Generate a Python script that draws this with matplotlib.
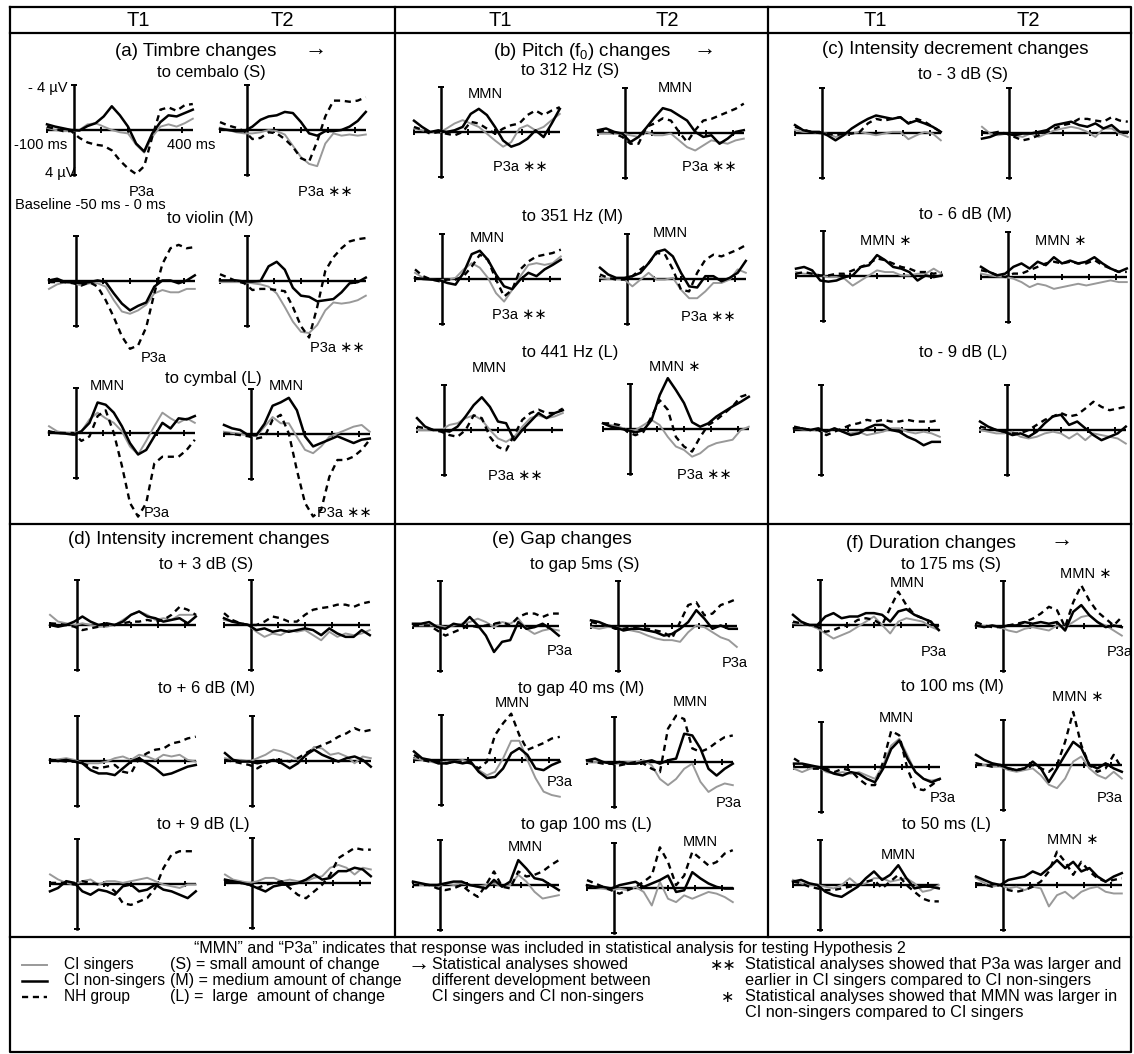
import matplotlib.pyplot as plt

plt.rcParams['font.family'] = ['Liberation Sans', 'DejaVu Sans']
plt.rcParams['mathtext.fontset'] = 'custom'
plt.rcParams['mathtext.rm'] = 'Liberation Sans'

W, H = 1134, 1054

# sample times (ms) shared by every waveform
times = [-100, -70, -40, -10, 20, 50, 80, 110, 140, 170, 200, 230, 260, 290, 320, 350, 380, 410, 440]

# amplitudes in microvolts, negative = up; rows: CI singers, CI non-singers, NH group
# (a) timbre
cembalo_t1 = [[-0.2, 0, 0.1, 0.1, 0, -0.5, -0.6, -0.3, 0, 0.2, 0.3, 1.3, 2.0, 0.6, -0.3, -0.5, -0.3, -0.6, -1.0],
              [-0.5, -0.3, -0.15, 0, 0.05, -0.35, -0.6, -1.2, -2.1, -1.3, -0.3, 1.2, 1.9, 0.3, -0.7, -1.3, -1.2, -1.5, -1.8],
              [-0.3, -0.1, 0.1, 0.1, 0.7, 1.1, 1.3, 1.4, 1.8, 2.7, 3.4, 3.9, 3.2, 0.6, -1.8, -2.0, -1.7, -2.2, -2.3]]
cembalo_t2 = [[-0.2, 0, 0.2, 0.3, 0.3, 0.2, 0.0, 0.1, 0.4, 1.4, 2.4, 3.0, 3.2, 1.2, 0.3, 0.5, 0.4, 0.5, 0.4],
              [-0.1, 0, 0.1, 0.1, -0.3, -0.9, -1.2, -1.3, -1.6, -1.5, -0.7, 0.3, 0.5, 0.1, 0.1, 0.0, -0.3, -0.8, -1.6],
              [-0.7, -0.4, -0.2, 0.1, 0.8, 0.7, 0.2, 0.3, 0.8, 1.5, 2.5, 2.8, 1.0, -1.2, -2.6, -2.6, -2.5, -2.6, -2.9]]
violin_t1 = [[0.7, 0.3, 0.1, 0.2, 0.4, 0.2, 0.2, 0.5, 1.7, 2.7, 2.9, 2.6, 2.1, 1.1, 0.8, 1.0, 1.0, 0.7, 0.7],
             [-0.05, -0.2, 0.1, 0.1, 0.2, 0.1, -0.05, 0.1, 1.1, 2.0, 2.6, 2.2, 1.9, 0.5, -0.05, -0.05, 0.2, -0.05, -0.5],
             [0.1, 0.1, 0.1, 0.2, 0.4, 0.1, 0.5, 1.7, 3.2, 4.9, 6.0, 5.7, 4.1, 1.1, -1.5, -2.9, -3.2, -2.9, -3.0]]
violin_t2 = [[0.1, 0.1, 0.1, 0.1, 0.2, 0.3, 0.5, 1.1, 2.3, 3.6, 4.5, 4.6, 3.9, 2.6, 1.9, 2.0, 1.9, 1.7, 1.3],
             [-0.05, -0.05, -0.05, 0.05, 0.05, 0.0, -1.3, -1.7, -1.0, 0.6, 1.3, 1.4, 1.8, 1.7, 1.6, 1.0, 0.2, 0.1, -0.3],
             [-0.6, -0.3, 0.0, 0.2, 0.8, 0.7, 0.7, 0.8, 0.9, 2.3, 4.0, 5.0, 2.3, -0.9, -2.1, -2.9, -3.5, -3.7, -3.8]]
cymbal_t1 = [[-0.6, -0.15, 0, 0, -0.15, -1.2, -1.8, -1.3, -0.9, -0.15, 1.2, 1.9, 0.7, -0.6, -1.8, -1.3, -0.9, -1.3, -0.9],
             [-0.05, 0, 0.05, 0.15, -0.15, -0.9, -2.7, -2.5, -1.8, -0.6, 0.9, 1.9, 1.5, 0.3, -0.9, -0.4, -1.3, -1.2, -1.5],
             [-0.15, 0, 0, 0, 0.7, 0.3, -1.5, -2.0, 0, 2.9, 6.2, 7.4, 6.2, 2.7, 2.1, 2.1, 2.1, 1.5, 0.6]]
cymbal_t2 = [[-0.2, -0.1, 0, 0.1, 0.2, -0.65, -1.5, -0.95, -0.95, 0.25, 1.4, 1.7, 1.1, 0.25, -0.05, -0.35, -0.65, -0.8, -0.2],
             [-0.8, -0.5, -0.35, 0.1, 0.1, -0.9, -2.5, -2.8, -3.2, -2.1, 0.2, 1.1, 0.8, 0.5, 0.2, 0.5, 0.8, 0.5, 0.4],
             [-0.05, 0, 0.1, 0.2, 0.4, 0.25, -1.25, -1.7, -0.05, 3.2, 6.1, 7.3, 6.7, 3.8, 2.3, 2.3, 2.0, 1.4, 0.5]]

# (b) pitch
hz312_t1 = [[-0.3, -0.15, 0, 0.1, -0.3, -0.75, -1.05, -0.75, -0.45, 0.15, 0.75, 1.3, 0.9, -0.3, -0.6, -0.15, -0.45, -1.05, -1.6],
            [-1.0, -0.45, 0, -0.15, 0, -0.15, -0.45, -1.6, -2.05, -1.5, -0.45, 0.75, 1.3, 1.05, 0.6, -0.15, 0.45, -0.75, -2.05],
            [-0.45, -0.2, 0.15, 0, 0.15, 0.3, 0, -0.9, -0.75, -0.3, 0.15, -0.3, -0.6, -0.75, -1.5, -1.9, -1.5, -1.9, -2.2]]
hz312_t2 = [[0.05, 0.05, 0.05, 0.05, 0.2, 0.35, -0.1, 0.2, 0.2, 0.05, 0.65, 1.25, 1.55, 1.1, 0.65, 0.8, 0.95, 0.65, 0.5],
            [-0.25, -0.4, -0.1, 0.05, 0.8, 0.35, -0.5, -1.4, -2.2, -2.0, -1.55, -1.1, -0.1, 0.35, 0.2, 0.95, 0.5, -0.1, -0.25],
            [-0.1, -0.25, 0.05, 0.35, 0.95, 0.95, -0.55, -0.85, -1.3, -1.1, -0.1, 0.8, -0.25, -1.1, -1.25, -1.55, -1.85, -2.15, -2.6]]
hz351_t1 = [[-0.55, -0.1, 0.05, 0.1, 0.05, -0.1, -0.85, -1.4, -1.0, -0.1, 1.25, 2.0, 0.95, -0.25, -1.25, -1.4, -1.25, -1.4, -2.0],
            [-0.1, 0, 0.05, 0.1, 0.35, 0.5, -0.55, -2.2, -2.5, -1.7, -0.4, 0.65, 0.9, 0.05, -0.55, -0.25, -0.85, -1.25, -1.7],
            [-0.85, -0.25, 0.05, 0.2, 0.05, 0.05, -0.25, -1.1, -2.15, -1.7, 0.05, 1.55, 0.95, -0.85, -1.55, -2.0, -2.15, -2.3, -2.6]]
hz351_t2 = [[-0.1, 0, 0, 0.05, 0.65, 0.05, -0.55, 0.05, 0.05, -0.1, 0.95, 1.7, 1.7, 1.1, 0.35, 0.35, 0.05, -0.85, -0.55],
            [-1.0, -0.4, -0.1, -0.1, -0.25, -0.55, -1.4, -2.4, -2.6, -2.0, -0.55, 0.65, 0.75, -0.25, -0.25, 0.2, -0.1, -0.55, -1.6],
            [-0.4, -0.1, 0.05, 0.05, -0.25, -0.85, -1.4, -2.3, -2.2, -0.85, 0.95, 1.1, -0.55, -1.7, -2.15, -2.0, -2.3, -2.6, -3.0]]
hz441_t1 = [[0, 0, 0, 0, -0.45, -0.6, -1.05, -1.3, -0.9, 0, 0.75, 1.05, 0.6, -0.3, -1.05, -1.3, -1.05, -1.2, -1.5],
            [-1.05, -0.3, 0, 0, 0.15, -0.3, -1.2, -2.2, -2.9, -2.05, -0.75, -0.6, 0.9, 0, -0.75, -1.5, -1.05, -1.5, -1.75],
            [-0.3, -0.15, 0, 0.15, 0.45, 0.6, 0, -1.3, -1.05, 0.6, 1.5, 1.8, 0.45, -0.9, -1.5, -1.8, -1.5, -1.5, -1.9]]
hz441_t2 = [[-0.5, -0.35, -0.2, 0.1, 0.1, -0.35, -0.8, -0.35, 0.7, 1.55, 1.85, 2.45, 2.15, 1.55, 1.25, 1.1, 0.95, 0.1, -0.2],
            [-0.5, -0.2, -0.05, 0.1, 0.3, 0.1, -0.8, -3.0, -4.5, -3.45, -2.3, -0.6, -0.2, -0.5, -1.1, -1.55, -2.0, -2.4, -2.85],
            [-0.5, -0.5, -0.35, 0.25, 0.55, 0.25, -1.1, -2.55, -1.7, 0.7, 1.55, 2.0, 0.7, -0.35, -0.8, -1.4, -2.0, -2.85, -3.1]]

# (c) intensity decrement
dec3_t1 = [[-0.25, -0.1, -0.1, 0, 0.05, 0.35, 0.2, 0.05, -0.1, 0.05, 0.2, 0.05, -0.1, -0.1, 0.55, 0.2, -0.1, 0.05, 0.65],
           [-0.7, -0.25, -0.1, -0.1, 0.2, 0.65, 0.2, -0.4, -0.85, -1.25, -1.55, -1.4, -1.25, -1.4, -0.85, -1.1, -0.85, -0.55, -0.1],
           [-0.55, -0.3, -0.1, 0, 0.05, 0.2, 0.05, 0.05, -0.1, -0.85, -1.25, -1.1, -1.25, -1.4, -0.85, -1.25, -1.0, -0.55, -0.1]]
dec3_t2 = [[-0.55, 0.05, 0.2, 0.05, 0.2, 0.35, 0.05, 0.35, 0.05, -0.25, -0.4, -0.55, -0.4, -0.1, 0.35, -0.4, -0.4, 0.05, 0.35],
           [0.5, 0.35, 0.05, 0.05, 0.2, 0.05, 0.05, -0.1, -0.25, -0.7, -0.85, -1.0, -0.7, -0.55, -0.85, -0.4, -0.7, -0.1, -0.1],
           [-0.1, 0.05, -0.1, 0.05, 0.35, 0.65, 0.5, 0.2, -0.1, -0.4, -0.7, -0.85, -1.25, -1.25, -1.1, -1.0, -1.4, -1.1, -1.0]]
dec6_t1 = [[-0.35, -0.2, -0.2, -0.05, 0.1, 0.1, 0.25, 0.85, 0.4, -0.05, -0.5, -0.35, -0.35, -0.05, -0.05, -0.2, -0.2, -0.65, -0.2],
           [-0.65, -0.8, -0.5, 0.4, 0.5, 0.4, 0.1, -0.05, -0.8, -0.95, -1.85, -1.4, -0.8, -0.65, -0.35, 0.4, -0.05, 0.1, -0.05],
           [-0.2, -0.35, -0.2, -0.05, -0.05, -0.2, -0.2, -0.5, -0.8, -1.1, -1.55, -1.4, -1.1, -0.8, -0.65, -0.35, -0.35, -0.2, -0.35]]
dec6_t2 = [[-0.3, -0.15, -0.05, 0, 0.15, 0.45, 0.9, 0.6, 0.75, 1.05, 0.9, 0.75, 0.6, 0.75, 0.6, 0.45, 0.3, 0.45, 0.45],
           [-0.9, -0.45, -0.15, -0.3, -0.9, -1.2, -0.75, -1.35, -1.05, -1.75, -1.2, -1.45, -1.2, -1.35, -1.75, -1.2, -0.75, -0.45, -0.75],
           [-0.6, -0.45, -0.15, 0, -0.3, -0.3, -0.6, -0.9, -1.2, -1.35, -1.2, -1.35, -1.2, -1.2, -1.5, -1.05, -0.75, -0.45, -0.45]]
dec9_t1 = [[-0.15, -0.05, 0, 0, 0.15, -0.15, 0.15, 0.3, 0.15, 0.45, 0.3, 0.15, -0.15, -0.15, 0.15, 0.3, 0.15, 0.3, 0.6],
           [-0.15, -0.15, 0, -0.15, 0.15, -0.15, 0.15, 0.45, 0.3, -0.15, -0.45, -0.45, 0, 0.15, 0.6, 0.9, 1.35, 1.05, 1.05],
           [-0.3, -0.15, 0, 0, 0.45, 0.15, -0.15, -0.45, -0.6, -0.9, -0.75, -0.9, -0.75, -0.75, -0.9, -0.75, -0.75, -0.75, -0.9]]
dec9_t2 = [[0, 0.15, 0.3, 0.3, 0.15, 0.6, 0.75, 0.6, 0.3, 0.15, 0.3, 0.75, 0.3, 0.9, 0.3, 0.45, 0.6, 0.75, 1.2],
           [-0.75, -0.3, 0, 0.15, 0.45, 0.3, 0.6, 0.15, -0.6, -1.2, -1.35, -0.45, -0.75, -0.15, 0.45, 0.9, 0.6, 0.3, -0.3],
           [-0.3, -0.15, 0, 0.15, 0.3, 0.3, 0, -0.45, -0.9, -1.2, -1.5, -1.2, -1.35, -1.9, -2.5, -2.05, -1.75, -1.9, -2.05]]

# (d) intensity increment
inc3_t1 = [[-0.9, -0.3, -0.15, 0, -0.15, 0, 0.15, 0.15, 0, -0.45, -0.9, -1.2, -0.9, -0.45, -0.6, -0.45, -0.9, -0.9, -0.9],
           [0, 0.15, 0, -0.3, -0.75, -0.3, 0, -0.15, 0, -0.3, -0.9, -1.2, -0.75, -0.6, -0.3, -0.45, -0.6, -0.15, -0.75],
           [-0.15, -0.1, 0, 0.15, 0.45, 0.3, 0.15, 0, 0, -0.15, -0.3, -0.3, -0.45, -0.3, -0.45, -0.9, -1.6, -1.35, -0.9]]
inc3_t2 = [[-0.45, -0.3, -0.15, 0, 0.6, 1.05, 0.75, 0.9, 0.45, 0.6, 0.45, 0.9, 1.35, 0.6, 1.05, 0.75, 0.9, 0.75, 0.45],
           [-0.6, -0.3, -0.15, 0, 0.45, 0.3, 0.6, 0.45, 0.6, 0.45, 0.3, 0.45, 0.9, 0.3, 0.75, 1.05, 1.05, 0.45, 0.9],
           [-1.05, -0.45, -0.15, 0, 0, -0.3, -0.75, -0.6, -0.3, -0.3, -0.9, -1.35, -1.5, -1.6, -1.8, -1.8, -1.6, -1.9, -2.05]]
inc6_t1 = [[-0.1, -0.15, -0.25, -0.1, 0.2, 0.2, 0.2, 0.05, -0.25, -0.4, -0.1, -0.55, -0.4, -0.1, -0.55, -0.4, -0.55, -0.1, 0.05],
           [-0.1, 0, -0.1, 0.05, 0.2, 0.8, 1.1, 1.1, 1.25, 0.65, 0.05, -0.25, 0.2, 0.65, 1.25, 1.1, 0.8, 0.5, 0.35],
           [-0.1, -0.05, 0.05, 0.05, 0.2, 0.5, 0.65, 0.5, 0.35, 0.95, 1.1, -0.25, -0.7, -1.0, -1.1, -1.55, -1.7, -2.0, -2.15]]
inc6_t2 = [[-0.25, -0.1, -0.1, 0.05, -0.25, -0.55, -1.0, -0.85, -0.55, -0.1, -0.4, -1.25, -1.1, -0.55, -0.7, -0.4, 0.2, -0.4, -0.25],
           [-0.7, -0.1, 0.05, 0.05, 0.2, 0.05, -0.1, 0.2, 0.65, 0.2, -0.55, -1.0, -0.55, -0.25, 0.05, -0.25, -0.4, -0.1, 0.5],
           [-0.1, 0.05, 0.2, 0.35, 0.65, 0.2, -0.1, -0.1, 0.05, -0.25, -0.7, -1.1, -1.4, -1.7, -2.15, -2.45, -2.9, -2.6, -2.75]]
inc9_t1 = [[-0.85, -0.4, -0.1, 0.05, -0.25, -0.4, 0.05, -0.25, -0.25, -0.1, -0.25, -0.4, -0.55, -0.25, 0.05, 0.2, 0.35, 0.05, 0.05],
           [0.65, 0.35, -0.25, -0.1, 0.65, 0.95, 0.5, 0.65, 0.95, 0.2, 0.05, 0.65, 0.5, 0.05, 0.5, 0.65, 0.95, 1.25, 0.65],
           [-0.1, -0.1, -0.1, 0.05, -0.25, -0.1, 0.05, 0.05, 0.65, 1.7, 1.85, 1.55, 1.25, 0.35, -1.4, -2.6, -2.9, -2.9, -2.9]]
inc9_t2 = [[-0.75, -0.3, -0.15, 0, -0.15, -0.45, -0.45, -0.15, -0.3, -0.15, -0.15, -0.45, -0.6, -1.35, -1.6, -1.35, -0.75, -1.35, -1.2],
           [-0.3, -0.15, 0, 0.15, 0.45, 0.75, 0.3, 0.15, 0.15, 0, -0.3, -0.75, -0.3, -0.45, -1.05, -1.05, -1.35, -1.2, -0.6],
           [-0.15, -0.1, 0, 0.15, 0.45, 0.15, 0, -0.15, 0.45, 1.05, 1.35, 0.75, 0.15, -0.75, -2.2, -2.65, -3.1, -2.95, -2.95]]

# (e) gap
gap5_t1 = [[-0.05, -0.05, -0.05, -0.05, 0.1, -0.05, -0.2, -0.35, -0.65, -0.35, 0.1, -0.35, -0.2, -0.65, 0.25, 0.7, 0.4, 0.25, 0.4],
           [-0.2, -0.2, -0.35, 0.1, 0.25, -0.2, -0.05, -0.8, -0.05, 0.85, 2.3, 1.4, 1.25, -0.35, 0.25, 0.1, -0.2, 0.25, 0.85],
           [-0.05, -0.05, -0.05, 0.4, 0.85, 0.55, 0.25, -0.05, 0.1, -0.05, -0.2, -0.35, -0.05, -0.8, -1.1, -1.1, -0.8, -1.1, -1.1]]
gap5_t2 = [[0.1, 0.25, 0.1, 0.1, 0.25, 0.4, 0.55, 0.85, 1.1, 1.25, 1.25, 1.4, 0.55, -0.05, 0.1, 0.55, 1.0, 1.25, 1.85],
           [-0.5, -0.35, -0.05, 0.1, 0.4, 0.25, 0.25, 0.4, 0.55, 0.85, 0.7, 0.25, -0.35, -1.4, -0.65, 0.25, -0.05, 0.25, 0.25],
           [-0.35, -0.2, -0.05, 0.25, 0.25, 0.1, 0.25, 0.25, 0.4, 0.55, 1.1, -0.35, -1.85, -2.1, -0.95, -1.1, -1.85, -2.1, -2.4]]
gap40_t1 = [[-0.15, 0, 0.15, 0.3, 0.15, 0.15, 0, 0.3, 0.9, 1.35, 1.05, -0.15, -1.7, -1.7, 0, 1.6, 2.8, 3.1, 3.25],
            [-0.75, -0.15, 0, 0.3, 0.3, 0.15, 0.3, 0.15, 1.05, 1.6, 1.5, 0.75, -0.6, -1.05, -0.45, 0.75, 0.9, 0.45, 0.15],
            [-0.45, 0, 0.15, 0.15, 0.3, 0.15, 0.15, 0.3, 0.75, 0.15, -2.2, -3.25, -4.1, -2.2, -0.9, -1.2, -1.5, -1.9, -2.05]]
gap40_t2 = [[0, 0, 0, 0.15, 0.15, 0, 0, -0.15, 0.3, 1.5, 2.05, 1.5, 0.6, 0.15, 1.75, 2.65, 2.2, 1.9, 2.05],
            [-0.15, -0.3, 0, 0.15, 0, 0.15, 0.15, 0, -0.15, 0.15, -0.15, -0.3, -2.5, -2.35, -1.2, 0.6, 1.2, 0.6, 0.15],
            [-0.15, 0, 0.15, 0.15, 0.3, 0.15, 0, 0.15, 0.6, 0.9, -2.95, -4.1, -3.8, -1.2, -0.9, -1.2, -1.75, -2.2, -2.35]]
gap100_t1 = [[0, 0, 0, 0.15, -0.15, 0, -0.15, 0, 0.15, 0, -0.15, 0.15, 0, -0.9, -0.3, 0.6, 1.2, 1.05, 0.9],
             [-0.3, -0.15, 0, 0, -0.15, -0.3, -0.3, 0, 0.15, 0.3, -0.45, 0.15, -0.3, -2.2, -1.45, -0.6, -0.45, 0, 0.45],
             [0, 0, 0, 0.3, 0.45, 0.3, 0, 0.6, 1.05, 0, -1.2, 0.15, 0.3, -1.2, -0.75, -0.9, -1.2, -1.75, -2.2]]
gap100_t2 = [[-0.25, -0.1, 0.05, 0.2, 0.05, 0.2, -0.1, 0.35, 1.55, -0.55, 0.95, 1.25, 0.65, 0.95, 0.65, 0.35, 0.5, 0.8, 1.25],
             [-0.25, -0.1, -0.1, 0.05, -0.25, -0.4, -0.55, -0.1, -0.4, -0.7, -1.1, 0.35, 0.2, -1.4, -0.85, -0.4, -0.1, 0.05, 0.05],
             [-0.7, -0.4, -0.1, 0.2, 0.5, 0.2, -0.1, -0.55, -1.1, -3.6, -2.3, -0.25, -1.1, -3.2, -2.6, -2.0, -2.3, -3.05, -3.35]]

# (f) duration
dur175_t1 = [[-0.15, -0.1, 0, 0.3, 0.75, 1.2, 0.9, 0.6, 0.15, -0.3, -0.75, 0, 0.75, -0.3, -0.6, -0.45, -0.3, 0.15, 0.45],
             [-0.9, -0.3, 0, 0, -0.75, -1.05, -0.6, -0.75, -0.75, -1.05, -1.05, -0.9, -0.3, -1.2, -1.4, -0.9, -0.6, -0.3, 0.45],
             [-0.3, -0.15, 0, 0.15, 0.6, 0.45, 0.15, 0, -0.45, -0.6, -0.45, 0, -1.5, -2.95, -1.75, -0.9, -0.6, -0.3, 0.15]]
dur175_t2 = [[-0.05, 0, 0, 0.1, 0.4, 0.55, 0.25, 0.1, 0.25, 0.4, -0.05, 0.1, -0.35, -0.8, -0.95, -0.35, -0.05, 0.4, 0.85],
             [-0.05, 0.1, -0.05, 0.1, -0.05, -0.05, -0.35, -0.2, -0.35, -0.2, -0.35, 0.4, -1.25, -1.85, -0.95, -0.35, 0.1, -0.05, 0.1],
             [-0.35, -0.05, 0.1, 0.1, -0.05, -0.2, -0.35, -0.65, -1.1, -1.7, -1.4, 0.1, -2.1, -3.6, -2.25, -1.25, -0.65, -0.05, -0.8]]
dur100_t1 = [[0.15, 0.45, 0.15, 0, 0.45, 0.6, 0.45, 0.6, 0.45, 0.75, 1.05, -0.15, -1.9, -2.5, -1.05, 0.45, 1.05, 1.2, 1.05],
             [-0.3, -0.3, -0.15, 0, 0.3, 0.6, 0.75, 0.45, 0.6, 1.05, 1.35, 0.15, -1.6, -2.35, -0.75, 0.45, 1.05, 1.35, 1.05],
             [-0.75, -0.3, 0.15, 0.15, 0.15, 0.45, 0.15, 0.3, 1.05, 1.6, 1.6, -0.45, -3.2, -2.8, 0.15, 1.9, 2.05, 1.6, 1.05]]
dur100_t2 = [[-0.15, 0, 0.15, 0.15, 0.45, 0.6, 0.45, 0.3, 0.9, 1.75, 2.05, 1.2, -0.3, -0.75, 0.3, 0.9, 1.2, 0.6, 1.2],
             [-0.9, -0.45, -0.15, 0, 0.3, 0.45, 0.3, -0.3, 0.3, 1.5, 0.3, -0.9, -2.05, -1.5, 0, 0.3, -0.15, 0.3, 0.6],
             [-0.15, 0, 0.15, 0, 0.3, 0.45, 0.3, 0, 0.3, 0.6, 0, -2.05, -4.7, -1.75, 0, 0.6, 0.3, -0.9, 0.3]]
dur50_t1 = [[-0.45, -0.15, 0, 0, 0.15, 0.3, 0, -0.6, 0, -0.15, -0.6, -0.6, -0.3, -0.45, -0.6, -0.15, 0.6, 0.45, 0],
            [-0.3, -0.45, -0.15, 0, 0.6, 0.9, 1.05, 0.6, 0.15, -0.6, -1.2, -0.45, -0.9, -1.75, -0.6, 0.3, 0.15, 0.15, 0.3],
            [-0.3, -0.15, 0.15, 0.3, 0.45, 0.45, 0.3, 0.15, 0, -0.3, -0.45, 0.3, -0.3, -0.9, 0, 0.6, 1.2, 1.45, 1.45]]
dur50_t2 = [[-0.6, -0.2, 0.15, 0, 0.3, 0.15, 0.45, 0.15, 0.3, 1.9, 0.9, 0.6, 1.2, 0.6, 0.3, 0.15, 0.6, 0.75, 0.75],
            [-0.75, -0.45, -0.15, 0, -0.45, -0.6, -0.75, -1.2, -0.9, -1.5, -2.2, -1.5, -2.05, -1.2, -1.5, -0.75, -0.3, -0.75, -1.05],
            [-0.15, -0.05, 0.15, 0, 0.45, 0.6, 0.45, 0.15, -0.3, -1.2, -2.95, -2.05, -0.9, -2.05, -1.2, -0.6, -0.3, -0.45, -0.6]]

# where each mini plot sits: (waveforms, x of the 0 ms axis, y of the baseline) in pixels
panels = [
    (cembalo_t1, 74, 130), (cembalo_t2, 247, 130),
    (violin_t1, 76, 281), (violin_t2, 247, 281),
    (cymbal_t1, 76, 433), (cymbal_t2, 251, 434),
    (hz312_t1, 441, 132), (hz312_t2, 625, 133),
    (hz351_t1, 442, 279), (hz351_t2, 627, 279),
    (hz441_t1, 444, 430), (hz441_t2, 630, 429),
    (dec3_t1, 822, 133), (dec3_t2, 1009, 133),
    (dec6_t1, 823, 276), (dec6_t2, 1008, 277),
    (dec9_t1, 821, 430), (dec9_t2, 1007, 430),
    (inc3_t1, 77, 625), (inc3_t2, 251, 625),
    (inc6_t1, 77, 761), (inc6_t2, 252, 761),
    (inc9_t1, 77, 884), (inc9_t2, 252, 883),
    (gap5_t1, 440, 626), (gap5_t2, 618, 626),
    (gap40_t1, 441, 760), (gap40_t2, 614, 762),
    (gap100_t1, 440, 885), (gap100_t2, 614, 888),
    (dur175_t1, 820, 625), (dur175_t2, 1003, 626),
    (dur100_t1, 821, 767), (dur100_t2, 1003, 765),
    (dur50_t1, 820, 885), (dur50_t2, 1003, 885),
]

PX_MS = 0.27   # pixels per ms
PX_UV = 11.3   # pixels per microvolt
GRAY = '#999999'
STARS = '\u2217\u2217'
STAR = '\u2217'

fig = plt.figure(figsize=(W / 100, H / 100), dpi=100)
fig.patch.set_facecolor('white')

frame = fig.add_axes([0, 0, 1, 1])
frame.set_xlim(0, W)
frame.set_ylim(H, 0)
frame.axis('off')


def erp_axes(vx, by):
    left = vx - 130 * PX_MS
    bottom = by + 8 * PX_UV
    ax = fig.add_axes([left / W, 1 - bottom / H, 600 * PX_MS / W, 16 * PX_UV / H])
    ax.set_xlim(-130, 470)
    ax.set_ylim(8, -8)
    ax.axis('off')
    return ax


for waves, vx, by in panels:
    ax = erp_axes(vx, by)
    ax.plot([-100, 440], [0, 0], color='black', lw=1.7, solid_capstyle='butt')
    ax.plot([-100, 100, 200, 300, 400], [0] * 5, '|', color='black', ms=5, mew=1.4)
    ax.plot([0, 0], [-4, 4], color='black', lw=1.8)
    ax.plot([0, 0], [-4, 4], '_', color='black', ms=5, mew=1.4)
    sing, non, nh = waves
    ax.plot(times, sing, color=GRAY, lw=1.4, clip_on=False)
    ax.plot(times, nh, color='black', lw=1.7, dashes=(2.6, 2.0), clip_on=False)
    ax.plot(times, non, color='black', lw=1.8, clip_on=False)


def txt(x, y, s, size=10.5, ha='center'):
    frame.text(x, y, s, ha=ha, va='center', fontsize=size, color='black')


# grid of boxes
lw_box = 1.6
frame.plot([10, 1131, 1131, 10, 10], [7, 7, 1052, 1052, 7], color='black', lw=lw_box)
for y in (33, 524, 937):
    frame.plot([10, 1131], [y, y], color='black', lw=lw_box)
for x in (395, 768):
    frame.plot([x, x], [7, 937], color='black', lw=lw_box)

# time-point headers
for x, s in [(138, 'T1'), (282, 'T2'), (500, 'T1'), (667, 'T2'), (875, 'T1'), (1028, 'T2')]:
    txt(x, 21, s, 14.5)

# panel titles and condition labels
titles = [(196, 52, '(a) Timbre changes'), (582, 52, '(b) Pitch (f$_0$) changes'),
          (955, 50, '(c) Intensity decrement changes'), (199, 540, '(d) Intensity increment changes'),
          (562, 540, '(e) Gap changes'), (931, 543, '(f) Duration changes')]
for x, y, s in titles:
    txt(x, y, s, 13.5)
for x, y in [(316, 49), (705, 49), (1062, 540)]:
    txt(x, y, '\u2192', 16)

conditions = [(211, 73, 'to cembalo (S)'), (210, 218, 'to violin (M)'), (213, 378, 'to cymbal (L)'),
              (570, 70, 'to 312 Hz (S)'), (572, 217, 'to 351 Hz (M)'), (570, 353, 'to 441 Hz (L)'),
              (963, 75, 'to - 3 dB (S)'), (965, 215, 'to - 6 dB (M)'), (963, 353, 'to - 9 dB (L)'),
              (206, 565, 'to + 3 dB (S)'), (207, 688, 'to + 6 dB (M)'), (203, 825, 'to + 9 dB (L)'),
              (585, 565, 'to gap 5ms (S)'), (581, 688, 'to gap 40 ms (M)'), (586, 825, 'to gap 100 ms (L)'),
              (951, 565, 'to 175 ms (S)'), (952, 687, 'to 100 ms (M)'), (946, 825, 'to 50 ms (L)')]
for x, y, s in conditions:
    txt(x, y, s, 12)

# scale annotation on the first plot
txt(68, 88, '- 4 µV', 10.5, ha='right')
txt(41, 145, '-100 ms', 10.5)
txt(191, 145, '400 ms', 10.5)
txt(60, 173, '4 µV', 10.5)
txt(15, 205, 'Baseline -50 ms - 0 ms', 10.5, ha='left')

# component markers
P2 = 'P3a ' + STARS
M1 = 'MMN ' + STAR
markers = [(142, 192, 'P3a'), (325, 192, P2), (154, 358, 'P3a'), (337, 348, P2),
           (107, 386, 'MMN'), (286, 386, 'MMN'), (157, 513, 'P3a'), (344, 513, P2),
           (485, 94, 'MMN'), (520, 167, P2), (675, 88, 'MMN'), (709, 167, P2),
           (487, 238, 'MMN'), (670, 233, 'MMN'), (519, 315, P2), (708, 317, P2),
           (489, 368, 'MMN'), (675, 367, M1), (515, 476, P2), (704, 475, P2),
           (886, 241, M1), (1061, 241, M1),
           (560, 651, 'P3a'), (735, 663, 'P3a'), (512, 703, 'MMN'), (690, 702, 'MMN'),
           (560, 782, 'P3a'), (729, 803, 'P3a'), (525, 847, 'MMN'), (700, 842, 'MMN'),
           (907, 583, 'MMN'), (1086, 574, M1), (934, 652, 'P3a'), (1120, 652, 'P3a'),
           (1078, 697, M1), (896, 718, 'MMN'), (943, 798, 'P3a'), (1110, 798, 'P3a'),
           (1073, 840, M1), (898, 855, 'MMN')]
for x, y, s in markers:
    txt(x, y, s, 10.5)

# legend box
rows = [965, 981, 997, 1013]
txt(550, 948, '\u201cMMN\u201d and \u201cP3a\u201d indicates that response was included in '
    'statistical analysis for testing Hypothesis 2', 11.5)
frame.plot([22, 47], [rows[0], rows[0]], color=GRAY, lw=1.4)
frame.plot([22, 47], [rows[1], rows[1]], color='black', lw=1.8)
frame.plot([22, 47], [rows[2], rows[2]], color='black', lw=1.7, dashes=(2.6, 2.0))
for r, s in zip(rows, ['CI singers', 'CI non-singers', 'NH group']):
    txt(64, r, s, 11.2, ha='left')
for r, s in zip(rows, ['(S) = small amount of change', '(M) = medium amount of change',
                       '(L) =  large  amount of change']):
    txt(170, r, s, 11.5, ha='left')
txt(419, rows[0] - 1, '\u2192', 16)
for r, s in zip(rows, ['Statistical analyses showed', 'different development between',
                       'CI singers and CI non-singers']):
    txt(432, r, s, 11.5, ha='left')
txt(723, rows[0], STARS, 11.5)
txt(728, rows[2], STAR, 11.5)
for r, s in zip(rows, ['Statistical analyses showed that P3a was larger and',
                       'earlier in CI singers compared to CI non-singers',
                       'Statistical analyses showed that MMN was larger in',
                       'CI non-singers compared to CI singers']):
    txt(745, r, s, 11.7, ha='left')

fig.savefig('out.png', dpi=100, facecolor='white')
